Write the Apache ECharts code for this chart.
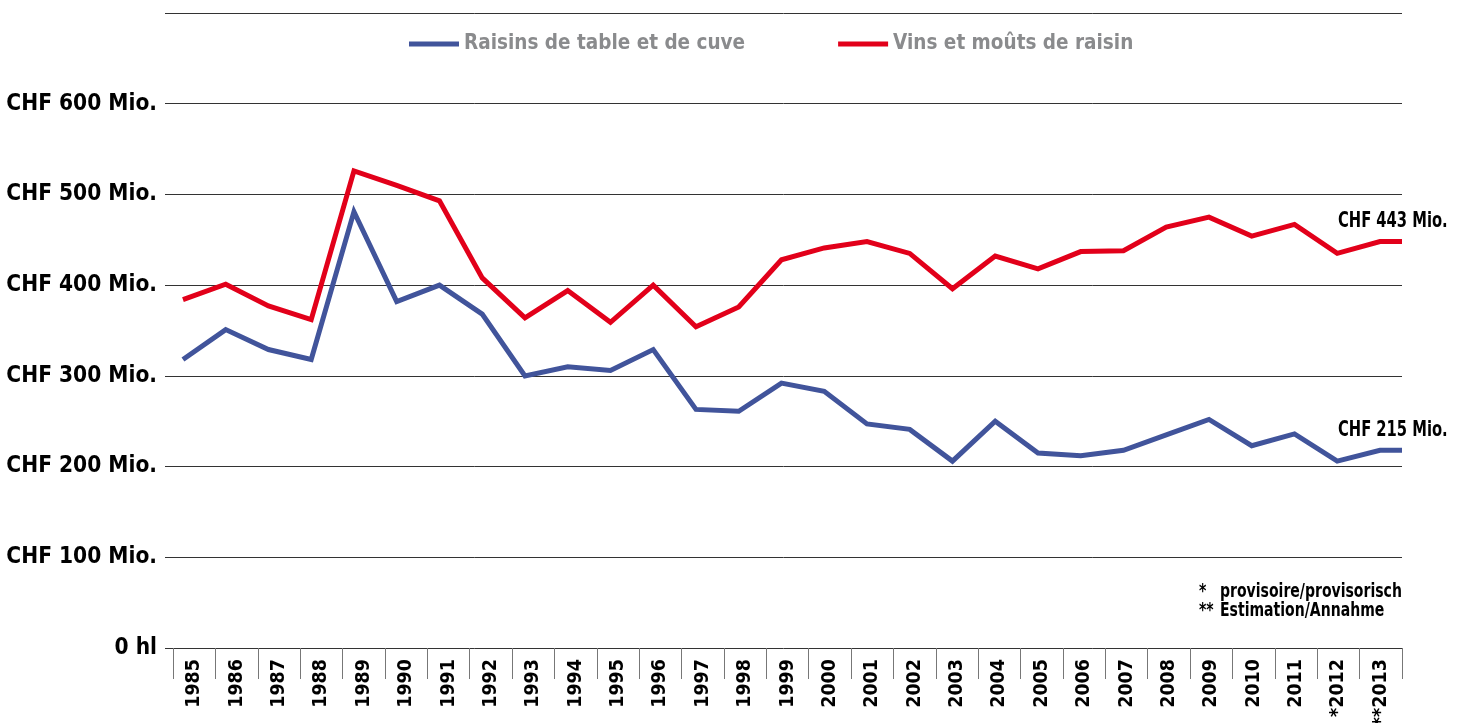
<!DOCTYPE html>
<html><head><meta charset="utf-8">
<script src="https://cdn.jsdelivr.net/npm/echarts@6/dist/echarts.min.js"></script>
<style>html,body{margin:0;padding:0;background:#fff}#c{width:1460px;height:723px}</style>
</head><body><div id="c"></div>
<script>
const years = [1985,1986,1987,1988,1989,1990,1991,1992,1993,1994,1995,1996,1997,1998,1999,2000,2001,2002,2003,2004,2005,2006,2007,2008,2009,2010,2011,2012,2013];
const yearLabels = ['1985','1986','1987','1988','1989','1990','1991','1992','1993','1994','1995','1996','1997','1998','1999','2000','2001','2002','2003','2004','2005','2006','2007','2008','2009','2010','2011','*2012','**2013'];
const raisins = [318,351,329,318,481,382,400,368,300,310,306,329,263,261,292,283,247,241,206,250,215,212,218,235,252,223,236,206,218];
const vins = [384,401,377,362,526,510,493,408,364,394,359,400,354,376,428,441,448,435,396,432,418,437,438,464,475,454,467,435,448];
const seriesNames = ['Raisins de table et de cuve','Vins et moûts de raisin'];
const endLabels = ['CHF 215 Mio.','CHF 443 Mio.'];
const yTickLabels = ['0 hl','CHF 100 Mio.','CHF 200 Mio.','CHF 300 Mio.','CHF 400 Mio.','CHF 500 Mio.','CHF 600 Mio.',''];
const footMarks = ['*','**'];
const footTexts = ['provisoire/provisorisch','Estimation/Annahme'];

const FONT = '"DejaVu Sans Condensed","Liberation Sans Narrow",sans-serif';
const COLORS = ['#41549b','#e2001a'];
const xMin = 1984.58, xMax = 2013.515;

function toPairs(vals){
  const d = years.map((y,i)=>[y, vals[i]]);
  d.push([xMax, vals[vals.length-1]]);
  return d;
}

const chart = echarts.init(document.getElementById('c'), null, {renderer:'canvas'});
const option = {
  animation: false,
  color: COLORS,
  grid: [
    {left:165, right:58, top:13, bottom:75, containLabel:false, outerBoundsMode:'none'},
    {left:173, right:58, top:13, bottom:75, containLabel:false, outerBoundsMode:'none'}
  ],
  legend: {
    data: seriesNames,
    left: 409, top: 30, padding: 0,
    icon: 'rect', itemWidth: 50, itemHeight: 5, itemGap: 93, itemTextGap: 8,
    textStyle: {color:'#8a8b8d', fontSize:20.5, fontWeight:'bold', fontFamily:FONT, lineHeight:28}
  },
  xAxis: [
    {type:'value', gridIndex:0, min:xMin, max:xMax, show:false},
    {type:'category', gridIndex:1, data:yearLabels, boundaryGap:true,
     axisLine:{show:false},
     axisTick:{show:true, length:31, lineStyle:{color:'#777', width:1}},
     axisLabel:{rotate:90, margin:11, fontSize:19.5, fontWeight:'bold', fontFamily:FONT, color:'#000', interval:0},
     splitLine:{show:false}}
  ],
  yAxis: [
    {type:'value', gridIndex:0, min:0, max:700, interval:100,
     axisLine:{show:false}, axisTick:{show:false},
     splitLine:{show:true, lineStyle:{color:'#333', width:1}},
     axisLabel:{margin:8, fontSize:22.5, fontWeight:'bold', fontFamily:FONT, color:'#000',
       formatter: v => yTickLabels[Math.round(v/100)] || ''}},
    {type:'value', gridIndex:1, min:0, max:700, show:false}
  ],
  series: [
    {name:seriesNames[0], type:'line', xAxisIndex:0, yAxisIndex:0, data:toPairs(raisins),
     showSymbol:false, lineStyle:{width:5, color:COLORS[0], join:'miter'}, itemStyle:{color:COLORS[0]}},
    {name:seriesNames[1], type:'line', xAxisIndex:0, yAxisIndex:0, data:toPairs(vins),
     showSymbol:false, lineStyle:{width:5, color:COLORS[1], join:'miter'}, itemStyle:{color:COLORS[1]}}
  ]
};
chart.setOption(option);

const lastIdx = years.length-1;
const g = [];
[raisins, vins].forEach((vals,i)=>{
  const p = chart.convertToPixel({xAxisIndex:0, yAxisIndex:0}, [years[lastIdx], vals[lastIdx]]);
  g.push({type:'text', x:p[0]-42, y:p[1]-20, scaleX:0.78, style:{text:endLabels[i], fill:'#000',
    font:'bold 21px '+FONT, verticalAlign:'middle', align:'left'}});
});
footMarks.forEach((m,i)=>{
  g.push({type:'text', x:1199, y:592+i*19, scaleX:0.78, style:{text:m, fill:'#000', font:'bold 20px '+FONT, verticalAlign:'middle'}});
  g.push({type:'text', x:1220, y:592+i*19, scaleX:0.78, style:{text:footTexts[i], fill:'#000', font:'bold 20px '+FONT, verticalAlign:'middle'}});
});
chart.setOption({graphic:g});
</script>
</body></html>
